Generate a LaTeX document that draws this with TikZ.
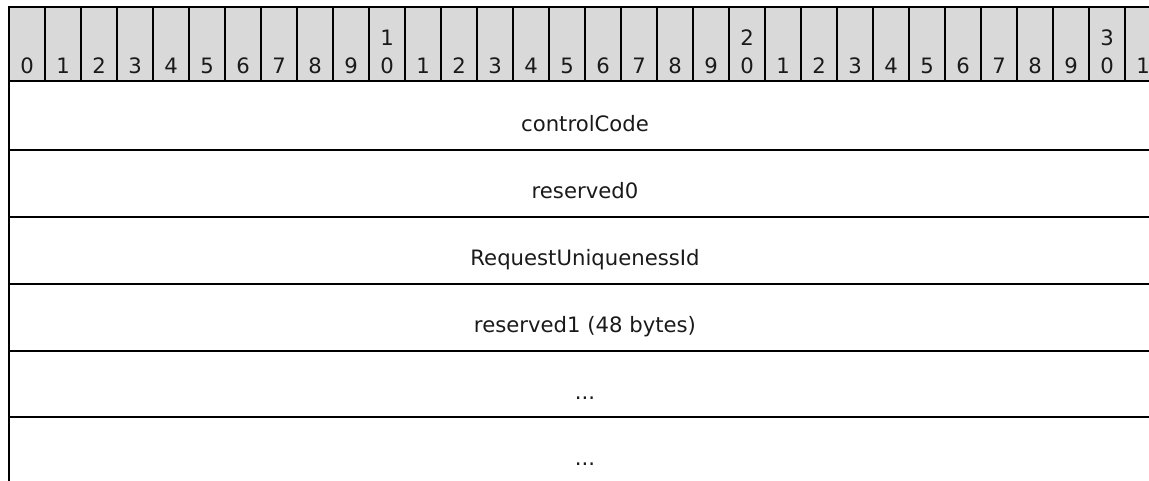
\documentclass[tikz,border=0pt]{standalone}
\usepackage{fontspec}
\setmainfont{DejaVu Sans}
\definecolor{hdrgray}{HTML}{D9D9D9}
\definecolor{txt}{HTML}{1A1A1A}
\begin{document}
\begin{tikzpicture}[x=0.75pt,y=-0.75pt,line width=1.5pt,
  txtfont/.style={font=\fontsize{15.9pt}{20pt}\selectfont, text=txt},
  bitcell/.style={draw=black, fill=hdrgray, minimum width=27pt, minimum height=55.5pt, inner sep=0pt, outer sep=0pt},
  digit/.style={txtfont, inner sep=0pt, anchor=base},
  rowbox/.style={draw=black, minimum width=864pt, inner sep=0pt, outer sep=0pt},
  rowlbl/.style={txtfont, inner sep=0pt, anchor=base}]
\useasboundingbox (0,0) rectangle (1149,480);
\clip (0,0) rectangle (1149,480);
% header bit cells
\foreach \i in {0,...,31}{
  \pgfmathsetmacro{\cx}{27+36*\i}
  \pgfmathtruncatemacro{\tens}{int(\i/10)}
  \pgfmathtruncatemacro{\ones}{\i-10*int(\i/10)}
  \node[bitcell] (b\i) at (\cx,44) {};
  \node[digit] (d\i) at (\cx,73) {\ones};
  \ifnum\i>0 \ifnum\ones=0
    \node[digit] (t\i) at (\cx,45) {\tens};
  \fi\fi
}
% rows
\node[rowbox, minimum height=51.75pt] (r1) at (585,115.5) {};
\node[rowlbl] (l1) at (585,131) {controlCode};
\node[rowbox, minimum height=50.25pt] (r2) at (585,183.5) {};
\node[rowlbl] (l2) at (585,198) {reserved0};
\node[rowbox, minimum height=50.25pt] (r3) at (585,250.5) {};
\node[rowlbl] (l3) at (585,265) {RequestUniquenessId};
\node[rowbox, minimum height=50.25pt] (r4) at (585,317.5) {};
\node[rowlbl] (l4) at (585,332) {reserved1 (48 bytes)};
\node[rowbox, minimum height=49.5pt] (r5) at (585,384) {};
\node[rowlbl] (l5) at (585,399) {...};
\node[rowbox, minimum height=50.25pt] (r6) at (585,450.5) {};
\node[rowlbl] (l6) at (585,465) {...};
\end{tikzpicture}
\end{document}
